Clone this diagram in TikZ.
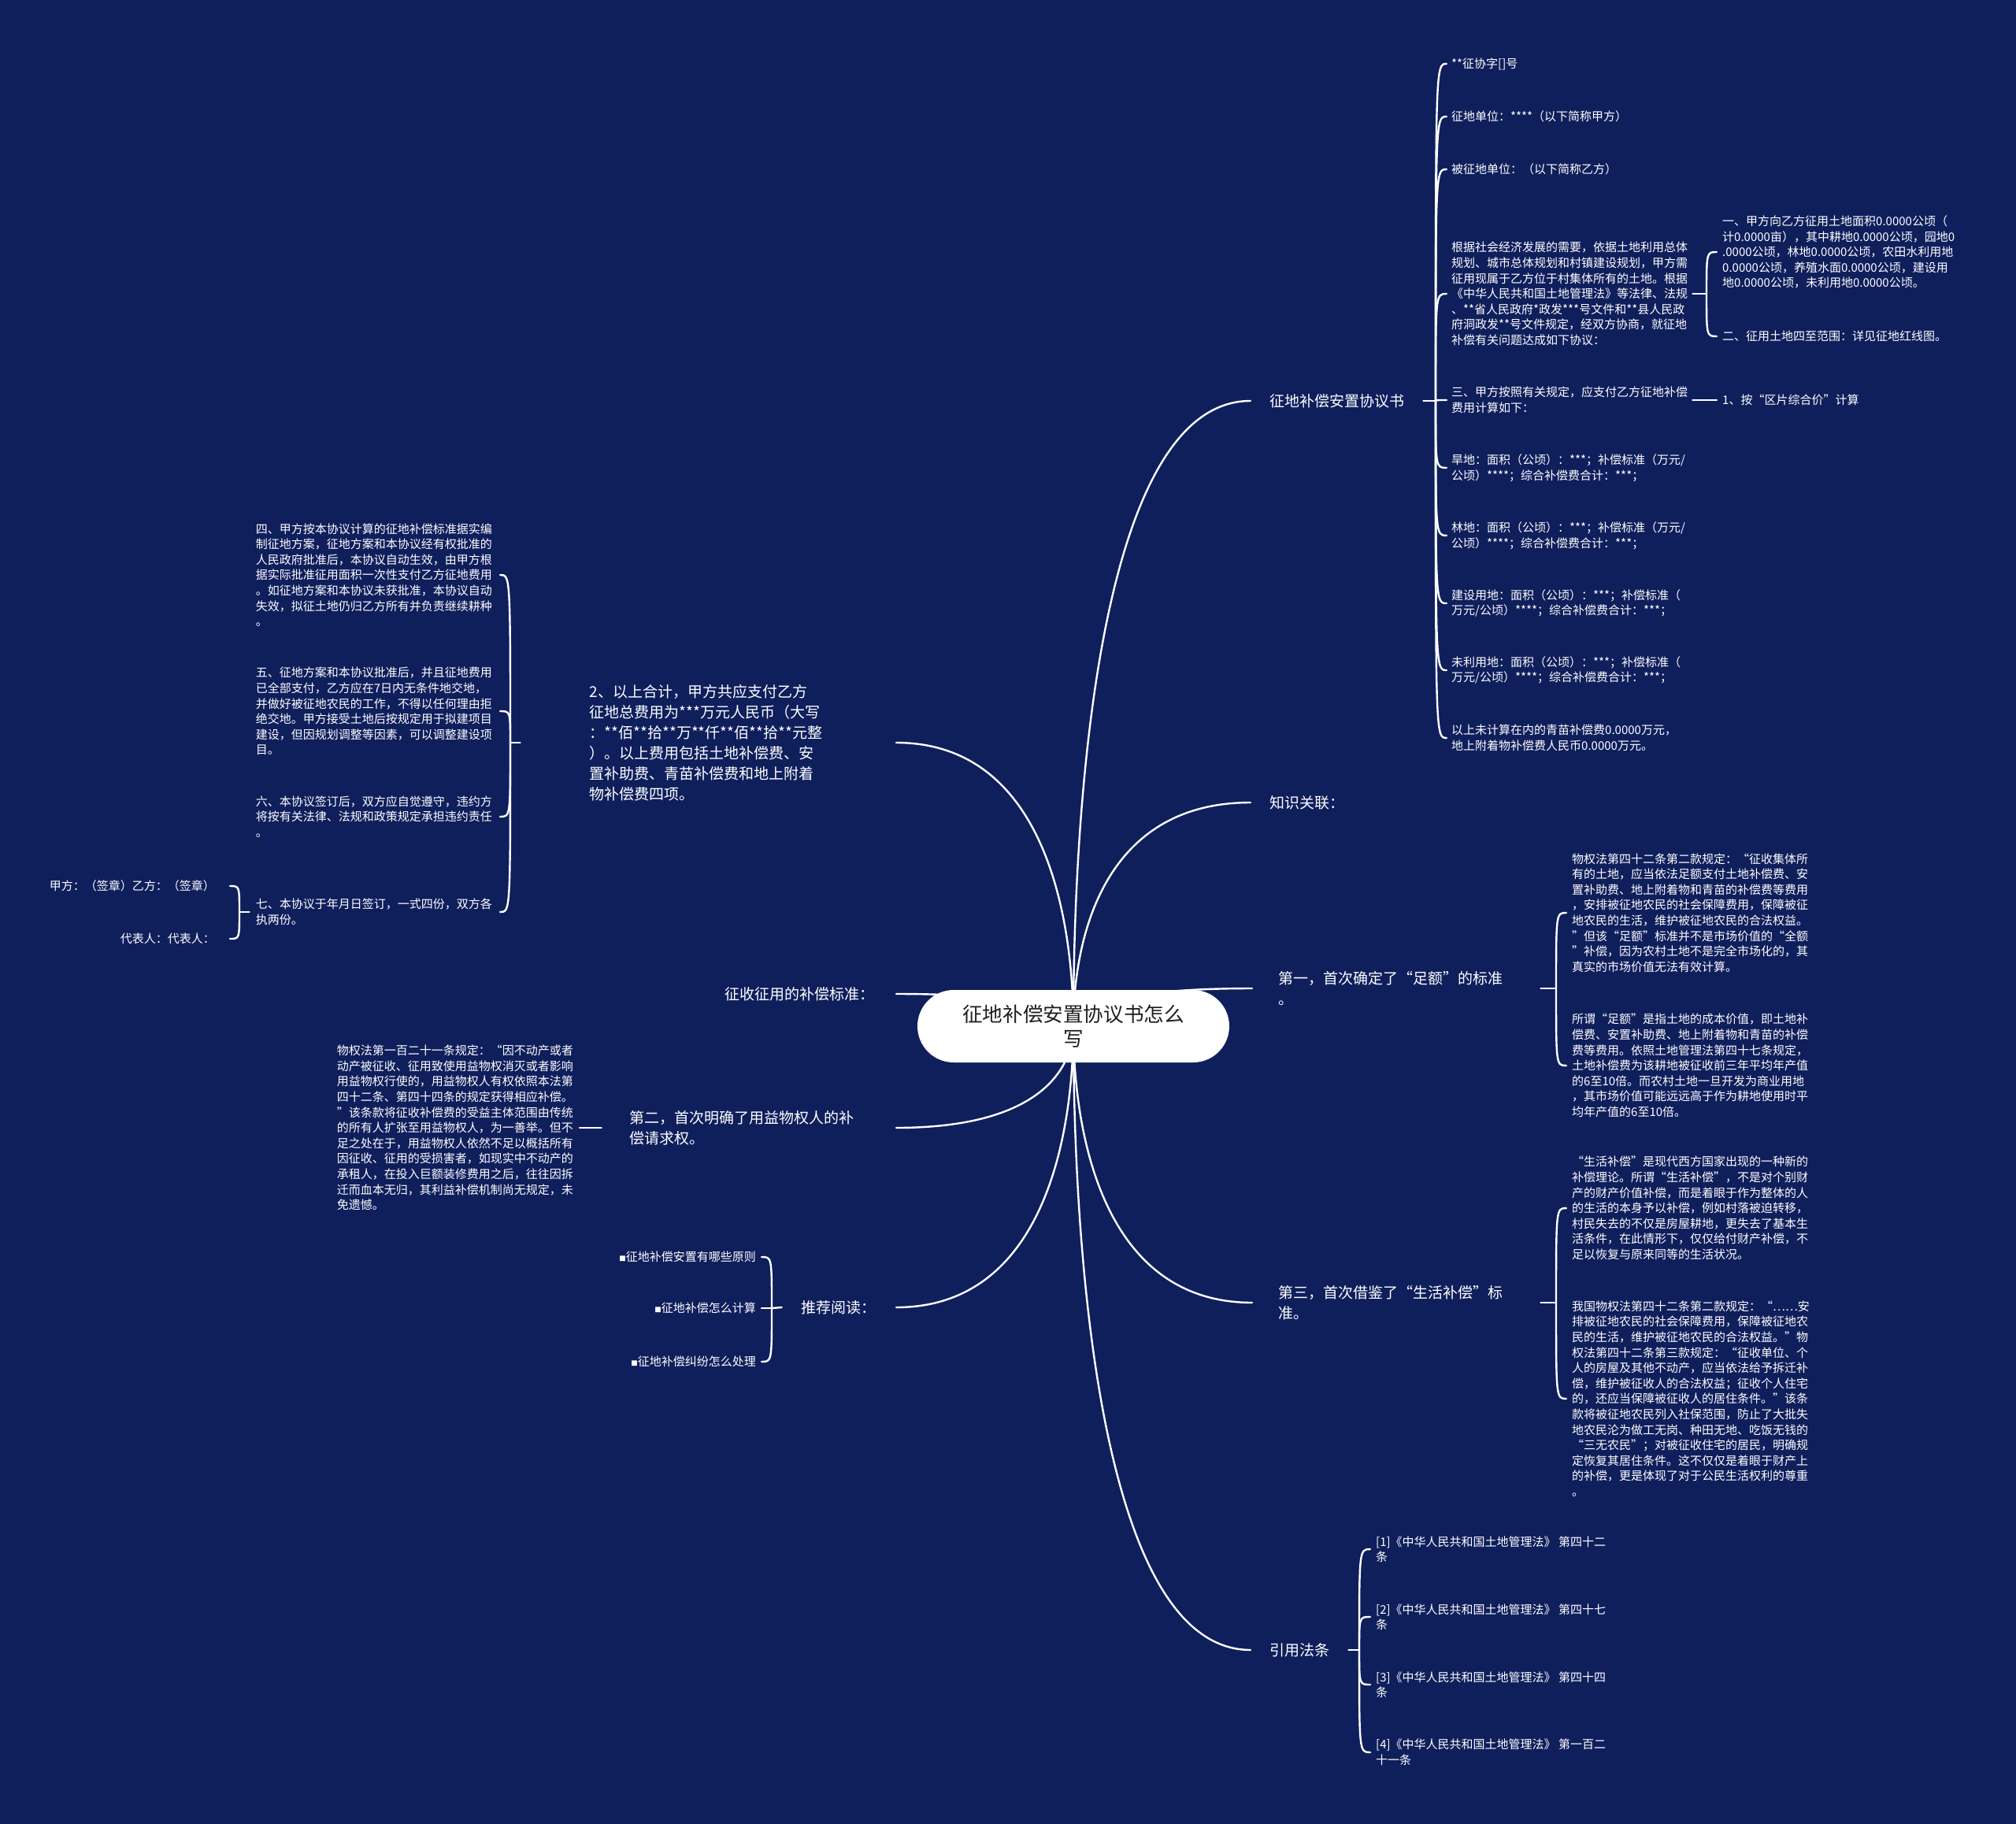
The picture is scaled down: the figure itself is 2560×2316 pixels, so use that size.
\documentclass[tikz,border=0pt]{standalone}
\usepackage{fontspec}
\setmainfont{Noto Sans CJK SC}
\usetikzlibrary{calc}
\definecolor{bgc}{RGB}{15,31,92}
\definecolor{rootc}{RGB}{30,30,30}
\pgfdeclarelayer{bgl}
\pgfdeclarelayer{lines}
\pgfsetlayers{bgl,lines,main}
\tikzset{
  conn/.style={draw=white, line width=2.4pt, line cap=round},
  txt/.style={text=white, inner ysep=0pt, align=left, font=\fontsize{15}{19.6}\selectfont},
  big/.style={text=white, inner ysep=0pt, align=left, font=\fontsize{19}{26}\selectfont},
}
\newcommand\brch[2]{\draw[conn] (#1) .. controls ($(#1)!0.38!(#1 |- #2)$) and ($(#1 |- #2)!0.16!(#2)$) .. (#2);}
\newcommand\kidc[2]{\draw[conn] (#1) .. controls (#1 |- #2) and (#1 |- #2) .. (#2);}
\newcommand\sqb{{\fontsize{8.5}{8.5}\selectfont ■}}
\begin{document}
\begin{tikzpicture}[x=1pt,y=-1pt]
\useasboundingbox (0,0) rectangle (2560,2316);
\begin{pgfonlayer}{bgl}
\fill[bgc] (0,0) rectangle (2560,2316);
\end{pgfonlayer}

% root
\node[fill=white, text=rootc, rounded corners=46pt, minimum width=396pt, minimum height=92pt, inner sep=0pt, align=center, font=\fontsize{25.6}{31}\selectfont] (root) at (1363,1303) {征地补偿安置协议书怎么\\写};

% right main branches
\node[big, anchor=west, inner xsep=24pt] (A) at (1588,509) {征地补偿安置协议书};
\node[big, anchor=west, inner xsep=24pt] (B) at (1588,1019) {知识关联：};
\node[big, anchor=west, inner xsep=33pt, text width=300pt] (C) at (1590,1255) {第一，首次确定了“足额”的标准\\。};
\node[big, anchor=west, inner xsep=33pt, text width=300pt] (D) at (1590,1654) {第三，首次借鉴了“生活补偿”标\\准。};
\node[big, anchor=west, inner xsep=24pt] (E) at (1588,2095) {引用法条};

% left main branches
\node[big, anchor=east, inner xsep=88pt, text width=301pt] (F) at (1138,943) {2、以上合计，甲方共应支付乙方\\征地总费用为***万元人民币（大写\\：**佰**拾**万**仟**佰**拾**元整\\）。以上费用包括土地补偿费、安\\置补助费、青苗补偿费和地上附着\\物补偿费四项。};
\node[big, anchor=east, inner xsep=27pt] (G) at (1138,1262) {征收征用的补偿标准：};
\node[big, anchor=east, inner xsep=36pt, text width=302pt] (H) at (1138,1432) {第二，首次明确了用益物权人的补\\偿请求权。};
\node[big, anchor=east, inner xsep=25pt] (I) at (1138,1660) {推荐阅读：};

% children of A
\coordinate (Aj) at (1823,509);
\node[txt, anchor=west, inner xsep=6pt] (A1) at (1837,81) {**征协字[]号};
\node[txt, anchor=west, inner xsep=6pt] (A2) at (1837,148) {征地单位：****（以下简称甲方）};
\node[txt, anchor=west, inner xsep=6pt] (A3) at (1837,215) {被征地单位：（以下简称乙方）};
\node[txt, anchor=west, inner xsep=6pt] (A4) at (1837,373) {根据社会经济发展的需要，依据土地利用总体\\规划、城市总体规划和村镇建设规划，甲方需\\征用现属于乙方位于村集体所有的土地。根据\\《中华人民共和国土地管理法》等法律、法规\\、**省人民政府*政发***号文件和**县人民政\\府洞政发**号文件规定，经双方协商，就征地\\补偿有关问题达成如下协议：};
\node[txt, anchor=west, inner xsep=6pt] (A5) at (1837,508) {三、甲方按照有关规定，应支付乙方征地补偿\\费用计算如下：};
\node[txt, anchor=west, inner xsep=6pt] (A6) at (1837,594) {旱地：面积（公顷）：***；补偿标准（万元/\\公顷）****；综合补偿费合计：***；};
\node[txt, anchor=west, inner xsep=6pt] (A7) at (1837,680) {林地：面积（公顷）：***；补偿标准（万元/\\公顷）****；综合补偿费合计：***；};
\node[txt, anchor=west, inner xsep=6pt] (A8) at (1837,766) {建设用地：面积（公顷）：***；补偿标准（\\万元/公顷）****；综合补偿费合计：***；};
\node[txt, anchor=west, inner xsep=6pt] (A9) at (1837,851) {未利用地：面积（公顷）：***；补偿标准（\\万元/公顷）****；综合补偿费合计：***；};
\node[txt, anchor=west, inner xsep=6pt] (A10) at (1837,937) {以上未计算在内的青苗补偿费0.0000万元，\\地上附着物补偿费人民币0.0000万元。};

% children of A4
\coordinate (Rj) at (2167,373);
\node[txt, anchor=west, inner xsep=7pt] (R1) at (2180,320) {一、甲方向乙方征用土地面积0.0000公顷（\\计0.0000亩），其中耕地0.0000公顷，园地0\\.0000公顷，林地0.0000公顷，农田水利用地\\0.0000公顷，养殖水面0.0000公顷，建设用\\地0.0000公顷，未利用地0.0000公顷。};
\node[txt, anchor=west, inner xsep=7pt] (R2) at (2180,427) {二、征用土地四至范围：详见征地红线图。};
% child of A5
\node[txt, anchor=west, inner xsep=7pt] (Q1) at (2180,508) {1、按“区片综合价”计算};

% children of C
\coordinate (Cj) at (1976,1255);
\node[txt, anchor=west, inner xsep=7pt] (C1) at (1989,1159) {物权法第四十二条第二款规定：“征收集体所\\有的土地，应当依法足额支付土地补偿费、安\\置补助费、地上附着物和青苗的补偿费等费用\\，安排被征地农民的社会保障费用，保障被征\\地农民的生活，维护被征地农民的合法权益。\\”但该“足额”标准并不是市场价值的“全额\\”补偿，因为农村土地不是完全市场化的，其\\真实的市场价值无法有效计算。};
\node[txt, anchor=west, inner xsep=7pt] (C2) at (1989,1353) {所谓“足额”是指土地的成本价值，即土地补\\偿费、安置补助费、地上附着物和青苗的补偿\\费等费用。依照土地管理法第四十七条规定，\\土地补偿费为该耕地被征收前三年平均年产值\\的6至10倍。而农村土地一旦开发为商业用地\\，其市场价值可能远远高于作为耕地使用时平\\均年产值的6至10倍。};

% children of D
\coordinate (Dj) at (1976,1654);
\node[txt, anchor=west, inner xsep=7pt] (D1) at (1989,1534) {“生活补偿”是现代西方国家出现的一种新的\\补偿理论。所谓“生活补偿”，不是对个别财\\产的财产价值补偿，而是着眼于作为整体的人\\的生活的本身予以补偿，例如村落被迫转移，\\村民失去的不仅是房屋耕地，更失去了基本生\\活条件，在此情形下，仅仅给付财产补偿，不\\足以恢复与原来同等的生活状况。};
\node[txt, anchor=west, inner xsep=7pt] (D2) at (1989,1776) {我国物权法第四十二条第二款规定：“……安\\排被征地农民的社会保障费用，保障被征地农\\民的生活，维护被征地农民的合法权益。”物\\权法第四十二条第三款规定：“征收单位、个\\人的房屋及其他不动产，应当依法给予拆迁补\\偿，维护被征收人的合法权益；征收个人住宅\\的，还应当保障被征收人的居住条件。”该条\\款将被征地农民列入社保范围，防止了大批失\\地农民沦为做工无岗、种田无地、吃饭无钱的\\“三无农民”；对被征收住宅的居民，明确规\\定恢复其居住条件。这不仅仅是着眼于财产上\\的补偿，更是体现了对于公民生活权利的尊重\\。};

% children of E
\coordinate (Ej) at (1726,2095);
\node[txt, anchor=west, inner xsep=7pt] (E1) at (1740,1967) {[1]《中华人民共和国土地管理法》 第四十二\\条};
\node[txt, anchor=west, inner xsep=7pt] (E2) at (1740,2053) {[2]《中华人民共和国土地管理法》 第四十七\\条};
\node[txt, anchor=west, inner xsep=7pt] (E3) at (1740,2139) {[3]《中华人民共和国土地管理法》 第四十四\\条};
\node[txt, anchor=west, inner xsep=7pt] (E4) at (1740,2225) {[4]《中华人民共和国土地管理法》 第一百二\\十一条};

% children of F
\coordinate (Fj) at (648,943);
\node[txt, anchor=east, inner xsep=8pt, text width=302pt] (F1) at (635,730) {四、甲方按本协议计算的征地补偿标准据实编\\制征地方案，征地方案和本协议经有权批准的\\人民政府批准后，本协议自动生效，由甲方根\\据实际批准征用面积一次性支付乙方征地费用\\。如征地方案和本协议未获批准，本协议自动\\失效，拟征土地仍归乙方所有并负责继续耕种\\。};
\node[txt, anchor=east, inner xsep=8pt, text width=302pt] (F2) at (635,903) {五、征地方案和本协议批准后，并且征地费用\\已全部支付，乙方应在7日内无条件地交地，\\并做好被征地农民的工作，不得以任何理由拒\\绝交地。甲方接受土地后按规定用于拟建项目\\建设，但因规划调整等因素，可以调整建设项\\目。};
\node[txt, anchor=east, inner xsep=8pt, text width=302pt] (F3) at (635,1037) {六、本协议签订后，双方应自觉遵守，违约方\\将按有关法律、法规和政策规定承担违约责任\\。};
\node[txt, anchor=east, inner xsep=8pt, text width=302pt] (F4) at (635,1158) {七、本协议于年月日签订，一式四份，双方各\\执两份。};

% children of F4
\coordinate (Sj) at (304,1158);
\node[txt, anchor=east, inner xsep=19pt] (S1) at (292,1125) {甲方：（签章）乙方：（签章）};
\node[txt, anchor=east, inner xsep=19pt] (S2) at (292,1192) {代表人：代表人：};

% child of H
\node[txt, anchor=east, inner xsep=6pt, text width=302pt] (H1) at (736,1432) {物权法第一百二十一条规定：“因不动产或者\\动产被征收、征用致使用益物权消灭或者影响\\用益物权行使的，用益物权人有权依照本法第\\四十二条、第四十四条的规定获得相应补偿。\\”该条款将征收补偿费的受益主体范围由传统\\的所有人扩张至用益物权人，为一善举。但不\\足之处在于，用益物权人依然不足以概括所有\\因征收、征用的受损害者，如现实中不动产的\\承租人，在投入巨额装修费用之后，往往因拆\\迁而血本无归，其利益补偿机制尚无规定，未\\免遗憾。};

% children of I
\coordinate (Ij) at (980,1661);
\node[txt, anchor=east, inner xsep=7pt] (I1) at (967,1596) {\sqb 征地补偿安置有哪些原则};
\node[txt, anchor=east, inner xsep=7pt] (I2) at (967,1661) {\sqb 征地补偿怎么计算};
\node[txt, anchor=east, inner xsep=7pt] (I3) at (967,1729) {\sqb 征地补偿纠纷怎么处理};

\begin{pgfonlayer}{lines}
% root to main branches
\brch{root.center}{A.west}
\brch{root.center}{B.west}
\brch{root.center}{C.west}
\brch{root.center}{D.west}
\brch{root.center}{E.west}
\brch{root.center}{F.east}
\brch{root.center}{G.east}
\brch{root.center}{H.east}
\brch{root.center}{I.east}
% A brace
\draw[conn] (A.east) -- (Aj);
\foreach \k in {A1,A2,A3,A4,A5,A6,A7,A8,A9,A10} {\kidc{Aj}{\k.west}}
\draw[conn] (A4.east) -- (Rj);
\kidc{Rj}{R1.west}
\kidc{Rj}{R2.west}
\draw[conn] (A5.east) -- (Q1.west);
% C, D, E braces
\draw[conn] (C.east) -- (Cj);
\kidc{Cj}{C1.west}
\kidc{Cj}{C2.west}
\draw[conn] (D.east) -- (Dj);
\kidc{Dj}{D1.west}
\kidc{Dj}{D2.west}
\draw[conn] (E.east) -- (Ej);
\foreach \k in {E1,E2,E3,E4} {\kidc{Ej}{\k.west}}
% F brace
\draw[conn] (F.west) -- (Fj);
\foreach \k in {F1,F2,F3,F4} {\kidc{Fj}{\k.east}}
\draw[conn] (F4.west) -- (Sj);
\kidc{Sj}{S1.east}
\kidc{Sj}{S2.east}
% H
\draw[conn] (H.west) -- (H1.east);
% I brace
\draw[conn] (I.west) -- (Ij);
\foreach \k in {I1,I2,I3} {\kidc{Ij}{\k.east}}
\end{pgfonlayer}
\end{tikzpicture}
\end{document}
